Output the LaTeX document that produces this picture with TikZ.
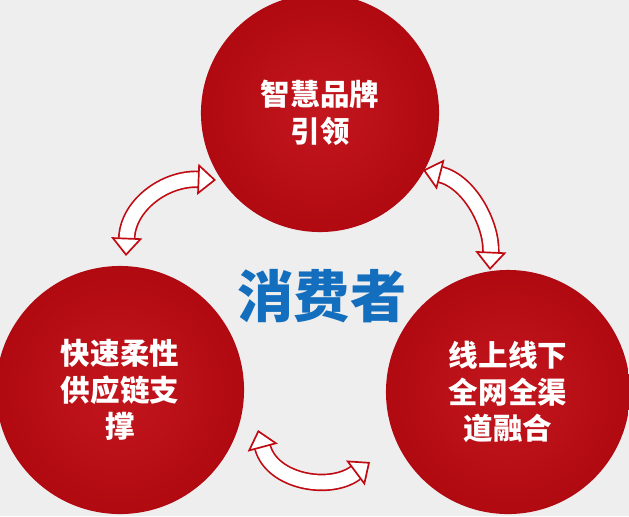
\documentclass[tikz,border=0pt]{standalone}
\usepackage{fontspec}
\newfontfamily\cjk{Noto Sans CJK SC}
\usetikzlibrary{arrows.meta, positioning}
\definecolor{hubred}{RGB}{192,10,18}
\definecolor{hubblue}{RGB}{20,110,190}
\definecolor{paper}{RGB}{238,238,238}

\begin{document}
\begin{tikzpicture}[x=0.025cm, y=-0.025cm,
  every node/.style={font=\cjk\bfseries},
  hub/.style={circle, inner color=hubred!95!white, outer color=hubred!92!black, minimum size=#1*0.05cm, align=center, text=white, font=\cjk\bfseries\fontsize{21}{26}\selectfont},
  swirl/.style={draw=hubred, line width=1.2pt, double=white, double distance=10pt,
    {Triangle[open, fill=white, length=13pt, width=22pt]}-{Triangle[open, fill=white, length=13pt, width=22pt]}}
]

% Background and frame
\fill[paper] (0,0) rectangle (629,516);
\useasboundingbox (0,0) rectangle (629,516);

% Circles
\node[hub=119] (brand) at (320,113) {智慧品牌\\引领};
\node[hub=124] (supply) at (120,390) {快速柔性\\供应链支\\撑};
\node[hub=122] (channel) at (508,392) {线上线下\\全网全渠\\道融合};

% Center label
\node[text=hubblue, font=\cjk\bfseries\fontsize{40}{46}\selectfont] (user) at (322,296) {消费者};

% Sketchy double arrows
\coordinate (tlA) at (126,256);
\coordinate (tlB) at (216,180);
\coordinate (trA) at (423,170);
\coordinate (trB) at (490,270);
\coordinate (btA) at (258,430);
\coordinate (btB) at (370,462);
\draw[swirl] (tlA) .. controls (128,205) and (165,178) .. (tlB);
\draw[swirl] (trA) .. controls (470,182) and (492,225) .. (trB);
\draw[swirl] (btA) .. controls (272,482) and (330,492) .. (btB);

\end{tikzpicture}
\end{document}
